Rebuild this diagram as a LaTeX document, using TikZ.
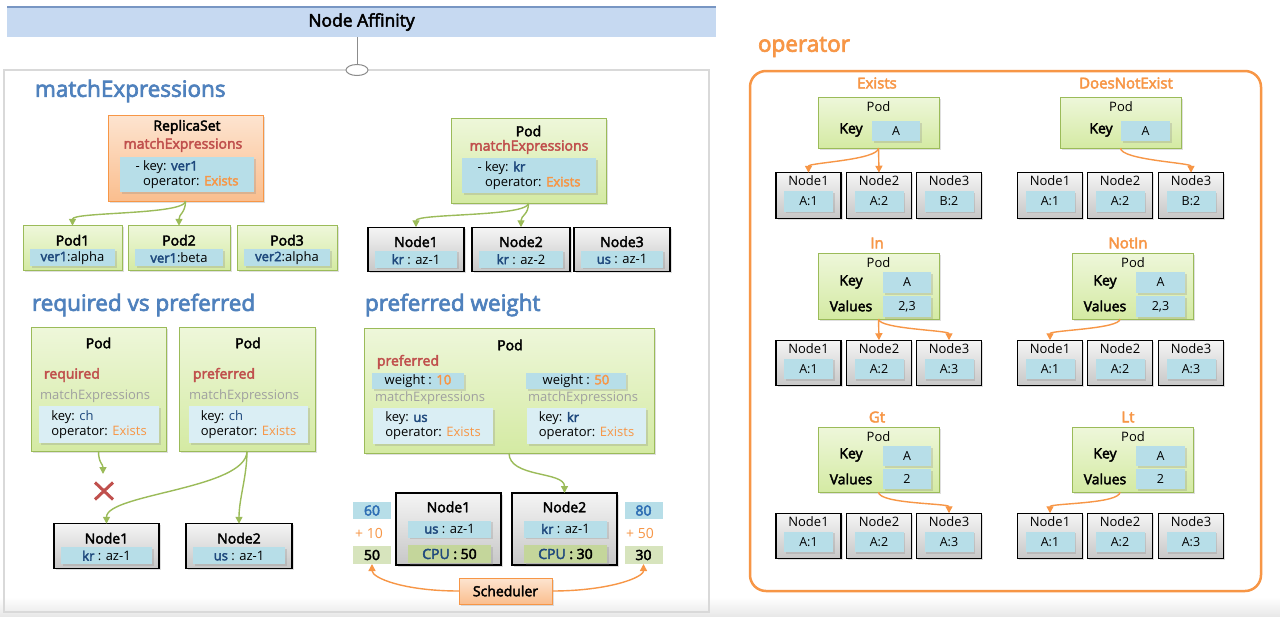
\documentclass[tikz,border=0pt]{standalone}
\usepackage{fontspec}
\setmainfont{Open Sans}[AutoFakeBold=3]
\usetikzlibrary{shapes.geometric,shapes.misc,shadows,arrows.meta}

\definecolor{ttlblue}{RGB}{79,129,189}
\definecolor{redt}{RGB}{192,80,77}
\definecolor{dkblue}{RGB}{31,73,125}
\definecolor{orng}{RGB}{247,150,70}
\definecolor{grayt}{RGB}{160,160,160}
\definecolor{gtop}{RGB}{238,247,218}
\definecolor{gbot}{RGB}{212,234,163}
\definecolor{gline}{RGB}{155,187,89}
\definecolor{otop}{RGB}{253,228,208}
\definecolor{obot}{RGB}{250,190,142}
\definecolor{stripc}{RGB}{183,222,232}
\definecolor{lstrip}{RGB}{218,238,244}
\definecolor{cpuc}{RGB}{196,214,155}
\definecolor{scorec}{RGB}{215,228,189}
\definecolor{numblue}{RGB}{46,110,180}
\definecolor{barc}{RGB}{198,217,241}
\definecolor{barline}{RGB}{120,150,195}
\definecolor{panelc}{RGB}{217,217,217}

\tikzset{
  every node/.style={inner sep=0pt, outer sep=0pt},
  tx/.style={font=\fontsize{13}{15}\selectfont},
  txb/.style={font=\fontsize{14}{15}\selectfont\bfseries},
  fsA/.style={font=\fontsize{12.5}{15}\selectfont},
  ttl/.style={font=\fontsize{22.5}{26}\selectfont\bfseries, text=ttlblue, anchor=west},
  optitle/.style={font=\fontsize{15}{17}\selectfont\bfseries, text=orng},
  shad/.style={drop shadow={opacity=0.25, shadow xshift=1.5pt, shadow yshift=-1.5pt}},
  greenbox/.style={draw=gline, line width=1pt, top color=gtop, bottom color=gbot},
  orangebox/.style={draw=orng, line width=1pt, top color=otop, bottom color=obot},
  graynode/.style={draw=black, line width=1.3pt, top color=white!96!black, bottom color=white!78!black},
  strip/.style={fill=stripc},
  lstripst/.style={fill=lstrip},
  cpustrip/.style={fill=cpuc},
  garr/.style={draw=gline, line width=1.4pt, -{Triangle[length=7pt,width=7pt]}},
  oarr/.style={draw=orng, line width=1.4pt, -{Triangle[length=7pt,width=7pt]}},
}

% style, name, cx, cy, width, label, strip text
\newcommand\rowbox[7]{%
  \node[#1, shad, minimum width=#5, minimum height=44.5] (#2) at (#3,#4) {};
  \node[txb] (#2-l) at ([yshift=-14.5pt]#2.north) {#6};
  \node[strip, shad, tx, minimum width=#5-14, minimum height=17] (#2-s) at ([yshift=12.5pt]#2.south) {#7};
}
% name, cx, cy, label, value
\newcommand\opnode[5]{%
  \node[graynode, line width=1.2pt, shad, minimum width=65, minimum height=45.5] (#1) at (#2,#3) {};
  \node[tx] (#1-l) at ([yshift=-8pt]#1.north) {#4};
  \node[strip, shad, fsA, minimum width=49, minimum height=20.5] (#1-s) at ([yshift=17pt]#1.south) {#5};
}

\begin{document}
\begin{tikzpicture}[x=1pt, y=-1pt]
\useasboundingbox (0,0) rectangle (1280,616);
\fill[white] (0,0) rectangle (1280,616);
\shade[top color=white, bottom color=black!9] (0,597) rectangle (1280,616);

% ---------- title bar and left panel ----------
\node[fill=barc, minimum width=709, minimum height=30, font=\fontsize{17.5}{20}\selectfont\bfseries] (title) at (361.5,22) {Node Affinity};
\draw[barline, line width=1.5pt] (title.north west) -- (title.north east);
\node[draw=panelc, line width=2.5pt, minimum width=705, minimum height=542] (lpanel) at (356.5,341) {};
\node[ellipse, draw=black!45, line width=1pt, fill=white, minimum width=22, minimum height=11] (conn) at (357,70) {};
\draw[black!45, line width=1pt] (conn.north |- title.south) -- (conn.north);

% ---------- matchExpressions ----------
\node[ttl] (tme) at (35,91) {matchExpressions};

\node[orangebox, shad, minimum width=155, minimum height=86] (rs) at (185.5,158) {};
\node[txb] (rs-t) at (187,127) {ReplicaSet};
\node[txb, text=redt] (rs-m) at (183,145) {matchExpressions};
\node[strip, shad, tx, align=left, minimum width=134, minimum height=35] (rs-s) at (187,174.5)
  {- key: \textbf{\color{dkblue}ver1}\\\phantom{- }operator: \textbf{\color{orng}Exists}};

\rowbox{greenbox}{p1}{72.5}{248}{99}{Pod1}{\textbf{\color{dkblue}ver1}:alpha}
\rowbox{greenbox}{p2}{179}{248}{102}{Pod2}{\textbf{\color{dkblue}ver1}:beta}
\rowbox{greenbox}{p3}{287}{248}{100}{Pod3}{\textbf{\color{dkblue}ver2}:alpha}

\node[greenbox, shad, minimum width=155, minimum height=85] (mp) at (528.5,160.5) {};
\node[txb] (mp-t) at (528.5,131) {Pod};
\node[txb, text=redt] (mp-m) at (529,147) {matchExpressions};
\node[strip, shad, tx, align=left, minimum width=134, minimum height=35] (mp-s) at (529,175.5)
  {- key: \textbf{\color{dkblue}kr}\\\phantom{- }operator: \textbf{\color{orng}Exists}};

\rowbox{graynode}{m1}{416}{249.5}{96}{Node1}{\textbf{\color{dkblue}kr} : az-1}
\rowbox{graynode}{m2}{521}{249.5}{98}{Node2}{\textbf{\color{dkblue}kr} : az-2}
\rowbox{graynode}{m3}{622}{249.5}{96}{Node3}{\textbf{\color{dkblue}us} : az-1}

\draw[garr] (rs.south) .. controls +(0,14) and +(0,-14) .. (p1.north);
\draw[garr] (rs.south) .. controls +(0,12) and +(0,-12) .. (p2.north);
\draw[garr] (mp.south) .. controls +(0,14) and +(0,-14) .. (m1.north);
\draw[garr] (mp.south) .. controls +(0,12) and +(0,-12) .. (m2.north);

% ---------- required vs preferred ----------
\node[ttl] (trp) at (32,305) {required vs preferred};

\node[greenbox, shad, minimum width=135, minimum height=124] (rq) at (98.5,389) {};
\node[txb] (rq-t) at (98.5,343) {Pod};
\node[txb, text=redt, anchor=west] (rq-r) at (44,375) {required};
\node[tx, text=grayt, anchor=west] (rq-m) at (40,396) {matchExpressions};
\node[lstripst, shad, tx, align=left, minimum width=120, minimum height=37] (rq-s) at (99,424.5)
  {key: {\color{dkblue}ch}\\operator: {\color{orng}Exists}};

\node[greenbox, shad, minimum width=136, minimum height=124] (pf) at (247,389) {};
\node[txb] (pf-t) at (248,343) {Pod};
\node[txb, text=redt, anchor=west] (pf-r) at (193,375) {preferred};
\node[tx, text=grayt, anchor=west] (pf-m) at (189,396) {matchExpressions};
\node[lstripst, shad, tx, align=left, minimum width=119, minimum height=37] (pf-s) at (248.5,424.5)
  {key: {\color{dkblue}ch}\\operator: {\color{orng}Exists}};

\rowbox{graynode}{rn1}{106.5}{546}{105}{Node1}{\textbf{\color{dkblue}kr} : az-1}
\rowbox{graynode}{rn2}{239}{546}{106}{Node2}{\textbf{\color{dkblue}us} : az-1}

\coordinate (xend) at (103,474);
\draw[garr] (rq.south) .. controls +(0,12) and +(0,-10) .. (xend);
\node[cross out, draw=redt, line width=3pt, minimum width=18, minimum height=17] (xm) at (104,491) {};
\draw[garr] (pf.south) .. controls +(0,38) and +(0,-30) .. (rn1.north);
\draw[garr] (pf.south) .. controls +(0,25) and +(0,-25) .. (rn2.north);

% ---------- preferred weight ----------
\node[ttl] (tpw) at (365,305) {preferred weight};

\node[greenbox, shad, minimum width=290, minimum height=125] (bp) at (509,390.5) {};
\node[txb] (bp-t) at (510,345) {Pod};
\node[txb, text=redt, anchor=west] (bp-r) at (377,362) {preferred};
\node[strip, shad, tx, minimum width=92, minimum height=16] (ws1) at (418,381) {weight : \textbf{\color{orng}10}};
\node[strip, shad, tx, minimum width=100, minimum height=16] (ws2) at (576,381) {weight : \textbf{\color{orng}50}};
\node[tx, text=grayt, anchor=west] (bp-m1) at (375,398) {matchExpressions};
\node[tx, text=grayt, anchor=west] (bp-m2) at (528,398) {matchExpressions};
\node[lstripst, shad, tx, align=left, minimum width=120, minimum height=36] (in1) at (433,426)
  {key: \textbf{\color{dkblue}us}\\operator: {\color{orng}Exists}};
\node[lstripst, shad, tx, align=left, minimum width=119, minimum height=36] (in2) at (586.5,426)
  {key: \textbf{\color{dkblue}kr}\\operator: {\color{orng}Exists}};

\node[graynode, shad, minimum width=105, minimum height=72] (wn1) at (448.5,529) {};
\node[txb] (wn1-l) at (448.5,507) {Node1};
\node[strip, shad, tx, minimum width=83, minimum height=17] (wn1-s) at (449.5,529) {\textbf{\color{dkblue}us} : az-1};
\node[cpustrip, shad, txb, minimum width=83, minimum height=18] (wn1-c) at (449.5,554) {{\color{dkblue}CPU} : 50};

\node[graynode, shad, minimum width=105, minimum height=72] (wn2) at (564.5,529) {};
\node[txb] (wn2-l) at (564.5,507) {Node2};
\node[strip, shad, tx, minimum width=83, minimum height=17] (wn2-s) at (565.5,529) {\textbf{\color{dkblue}kr} : az-1};
\node[cpustrip, shad, txb, minimum width=83, minimum height=18] (wn2-c) at (565.5,554) {{\color{dkblue}CPU} : 30};

\node[fill=stripc, txb, text=numblue, minimum width=38, minimum height=17] (b60) at (372,510.5) {60};
\node[tx, text=orng, font=\fontsize{14}{16}\selectfont] (p10) at (369,533) {+ 10};
\node[fill=scorec, txb, minimum width=38, minimum height=18] (b50) at (372,555) {50};
\node[fill=stripc, txb, text=numblue, minimum width=38, minimum height=17] (b80) at (643.5,510.5) {80};
\node[tx, text=orng, font=\fontsize{14}{16}\selectfont] (p50) at (640,533) {+ 50};
\node[fill=scorec, txb, minimum width=38, minimum height=18] (b30) at (643.5,555) {30};

\node[orangebox, shad, txb, minimum width=93, minimum height=26] (sch) at (505.5,591) {Scheduler};

\draw[garr] (bp.south) .. controls +(0,25) and +(0,-22) .. (wn2.north);
\draw[oarr] (sch.west) .. controls +(-55,0) and +(0,14) .. (b50.south);
\draw[oarr] (sch.east) .. controls +(55,0) and +(0,14) .. (b30.south);

% ---------- operator ----------
\node[ttl, text=orng] (topr) at (758,47) {operator};
\node[draw=orng, line width=2.5pt, rounded corners=16pt, minimum width=511, minimum height=520] (opbox) at (1005.5,331) {};

\node[optitle] (t-ex) at (877,83) {Exists};
\node[optitle] (t-dne) at (1126,83) {DoesNotExist};
\node[optitle] (t-in) at (877,243) {In};
\node[optitle] (t-nin) at (1128,243) {NotIn};
\node[optitle] (t-gt) at (877,417) {Gt};
\node[optitle] (t-lt) at (1128,417) {Lt};

% Exists
\node[greenbox, shad, minimum width=121, minimum height=51] (ex) at (878.5,122.5) {};
\node[tx] (ex-p) at (878.5,107) {Pod};
\node[txb] (ex-k) at (851,130) {Key};
\node[strip, shad, fsA, minimum width=48, minimum height=20] (ex-ks) at (896,131) {A};
% DoesNotExist
\node[greenbox, shad, minimum width=121, minimum height=51] (dne) at (1120.5,122.5) {};
\node[tx] (dne-p) at (1121,107) {Pod};
\node[txb] (dne-k) at (1101,130) {Key};
\node[strip, shad, fsA, minimum width=49, minimum height=20] (dne-ks) at (1145.5,131) {A};
% In
\node[greenbox, shad, minimum width=121, minimum height=66] (inp) at (878.5,286) {};
\node[tx] (inp-p) at (878.5,263) {Pod};
\node[txb] (inp-k) at (851,282) {Key};
\node[txb] (inp-v) at (851,306) {Values};
\node[strip, shad, fsA, minimum width=48, minimum height=21] (inp-ks) at (907,282.5) {A};
\node[strip, shad, fsA, minimum width=48, minimum height=21] (inp-vs) at (907,306.5) {2,3};
% NotIn
\node[greenbox, shad, minimum width=121, minimum height=66] (nin) at (1132.5,286) {};
\node[tx] (nin-p) at (1133,263) {Pod};
\node[txb] (nin-k) at (1105,282) {Key};
\node[txb] (nin-v) at (1105,306) {Values};
\node[strip, shad, fsA, minimum width=49, minimum height=21] (nin-ks) at (1160.5,282.5) {A};
\node[strip, shad, fsA, minimum width=49, minimum height=21] (nin-vs) at (1160.5,306.5) {2,3};
% Gt
\node[greenbox, shad, minimum width=121, minimum height=65] (gt) at (878.5,459.5) {};
\node[tx] (gt-p) at (878.5,437) {Pod};
\node[txb] (gt-k) at (851,455) {Key};
\node[txb] (gt-v) at (851,479) {Values};
\node[strip, shad, fsA, minimum width=48, minimum height=20] (gt-ks) at (907,456) {A};
\node[strip, shad, fsA, minimum width=48, minimum height=20] (gt-vs) at (907,479) {2};
% Lt
\node[greenbox, shad, minimum width=121, minimum height=65] (lt) at (1132.5,459.5) {};
\node[tx] (lt-p) at (1133,437) {Pod};
\node[txb] (lt-k) at (1105,455) {Key};
\node[txb] (lt-v) at (1105,479) {Values};
\node[strip, shad, fsA, minimum width=49, minimum height=20] (lt-ks) at (1160.5,456) {A};
\node[strip, shad, fsA, minimum width=49, minimum height=20] (lt-vs) at (1160.5,479) {2};

% operator nodes
\opnode{eN1}{808.5}{195.5}{Node1}{A:1}
\opnode{eN2}{879}{195.5}{Node2}{A:2}
\opnode{eN3}{949}{195.5}{Node3}{B:2}
\opnode{dN1}{1050}{195.5}{Node1}{A:1}
\opnode{dN2}{1120}{195.5}{Node2}{A:2}
\opnode{dN3}{1191}{195.5}{Node3}{B:2}

\opnode{iN1}{808.5}{363}{Node1}{A:1}
\opnode{iN2}{879}{363}{Node2}{A:2}
\opnode{iN3}{949}{363}{Node3}{A:3}
\opnode{nN1}{1050}{363}{Node1}{A:1}
\opnode{nN2}{1120}{363}{Node2}{A:2}
\opnode{nN3}{1191}{363}{Node3}{A:3}

\opnode{gN1}{808.5}{536}{Node1}{A:1}
\opnode{gN2}{879}{536}{Node2}{A:2}
\opnode{gN3}{949}{536}{Node3}{A:3}
\opnode{lN1}{1050}{536}{Node1}{A:1}
\opnode{lN2}{1120}{536}{Node2}{A:2}
\opnode{lN3}{1191}{536}{Node3}{A:3}

\draw[oarr] (ex.south) .. controls +(0,12) and +(0,-10) .. (eN1.north);
\draw[oarr] (ex.south) -- (eN2.north);
\draw[oarr] (dne.south) .. controls +(0,12) and +(0,-10) .. (dN3.north);
\draw[oarr] (inp.south) -- (iN2.north);
\draw[oarr] (inp.south) .. controls +(0,10) and +(0,-10) .. (iN3.north);
\draw[oarr] ([xshift=-12.5pt]nin.south) .. controls +(0,10) and +(0,-10) .. (nN1.north);
\draw[oarr] (gt.south) .. controls +(0,12) and +(0,-10) .. (gN3.north);
\draw[oarr] ([xshift=-12.5pt]lt.south) .. controls +(0,12) and +(0,-10) .. (lN1.north);
\end{tikzpicture}
\end{document}
